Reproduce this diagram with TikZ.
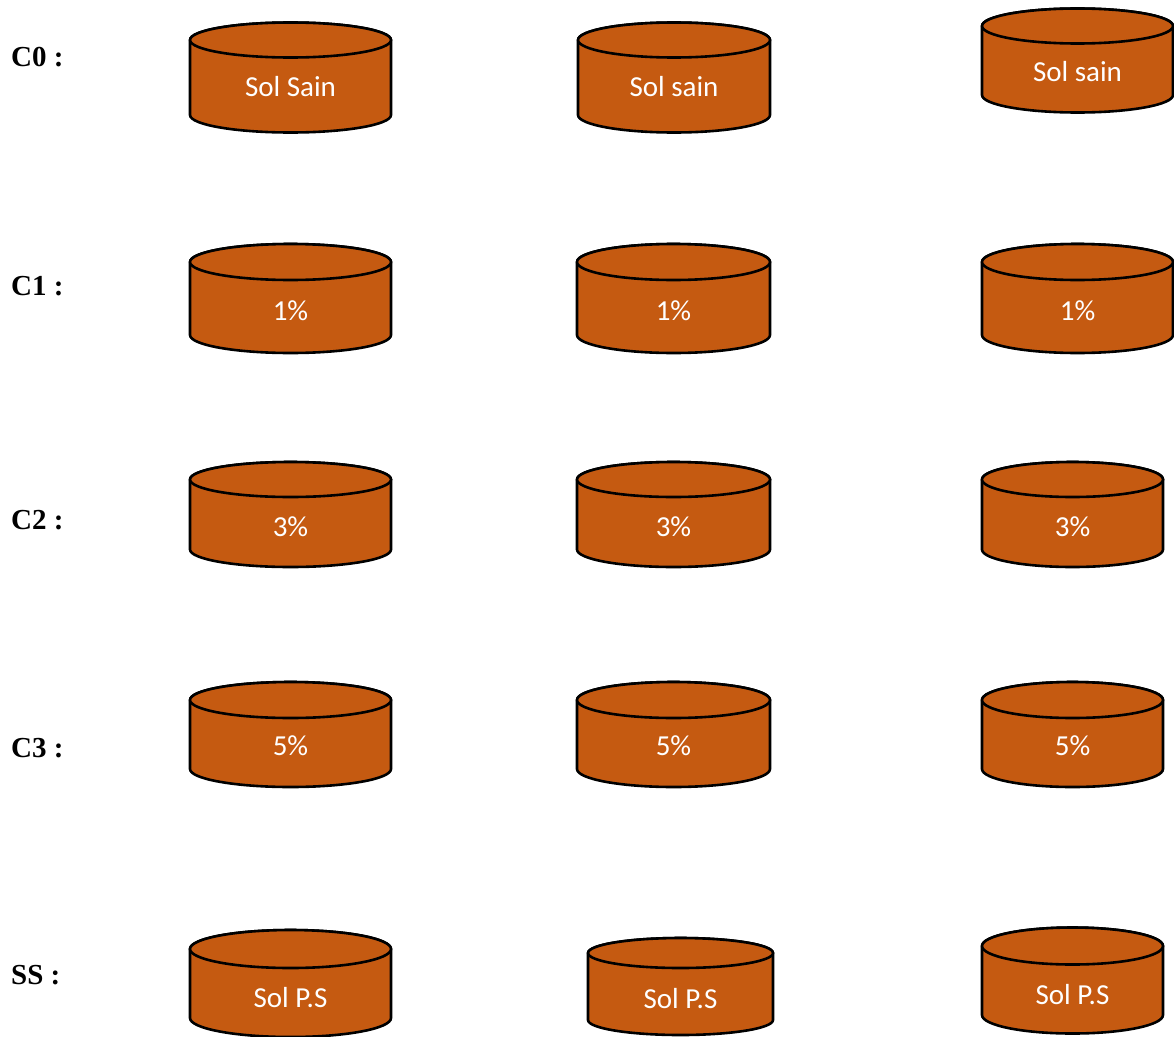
\documentclass[tikz,border=0pt]{standalone}
\usepackage{fontspec}
\setmainfont{Liberation Serif}
\newfontfamily\cylfont{Carlito}
\definecolor{soil}{HTML}{C55A11}
\tikzset{
  cylbody/.style={fill=soil,draw=black,line width=2.6pt,line join=round},
  cyltext/.style={text=white,font=\cylfont\fontsize{29}{32}\selectfont,inner sep=0pt},
  rowlabel/.style={font=\bfseries\fontsize{29}{32}\selectfont,anchor=west,inner sep=0pt}
}
% \drawcyl{name}{xl}{xr}{ytopc}{ybotc}{ry}{texty}{text}
\newcommand{\drawcyl}[8]{%
  \pgfmathsetmacro{\cxx}{(#2+#3)/2}%
  \pgfmathsetmacro{\rxx}{(#3-#2)/2}%
  \path[cylbody] (#2,#4) -- (#2,#5) arc[start angle=180,end angle=360,x radius=\rxx,y radius=-#6] -- (#3,#4) arc[start angle=0,end angle=180,x radius=\rxx,y radius=-#6] -- cycle;
  \path[cylbody] (\cxx,#4) ellipse[x radius=\rxx,y radius=#6];
  \node[cyltext] (#1) at (\cxx,#7) {#8};
}
\begin{document}
\begin{tikzpicture}[x=1pt,y=-1pt]
\useasboundingbox (0,0) rectangle (1174,1036);
% row labels
\node[rowlabel] (lc0) at (11,57) {C0 :};
\node[rowlabel] (lc1) at (11,286) {C1 :};
\node[rowlabel] (lc2) at (11,520) {C2 :};
\node[rowlabel] (lc3) at (11,748) {C3 :};
\node[rowlabel] (lss) at (11,975) {SS :};
% row C0
\drawcyl{a1}{190}{391}{40}{115}{17.5}{87}{Sol Sain}
\drawcyl{a2}{578}{770}{40}{115}{17.5}{87}{Sol sain}
\drawcyl{a3}{982}{1173}{26}{95}{17.5}{72}{Sol sain}
% row C1
\drawcyl{b1}{190}{391}{262}{335}{18}{311}{1\%}
\drawcyl{b2}{577}{770}{262}{335}{18}{311}{1\%}
\drawcyl{b3}{982}{1173}{262}{335}{18}{311}{1\%}
% row C2
\drawcyl{c1}{190}{391}{479.5}{549.5}{17.5}{527}{3\%}
\drawcyl{c2}{577}{770}{479.5}{549.5}{17.5}{527}{3\%}
\drawcyl{c3}{982}{1163}{479.5}{549.5}{17.5}{527}{3\%}
% row C3
\drawcyl{d1}{190}{391}{700}{769}{18}{746}{5\%}
\drawcyl{d2}{577}{770}{700}{769}{18}{746}{5\%}
\drawcyl{d3}{982}{1163}{700}{769}{18}{746}{5\%}
% row SS
\drawcyl{e1}{190}{391}{949}{1018}{19}{998}{Sol P.S}
\drawcyl{e2}{588}{773}{953}{1020}{15}{999}{Sol P.S}
\drawcyl{e3}{982}{1163}{946}{1015}{18.5}{995}{Sol P.S}
\end{tikzpicture}
\end{document}
